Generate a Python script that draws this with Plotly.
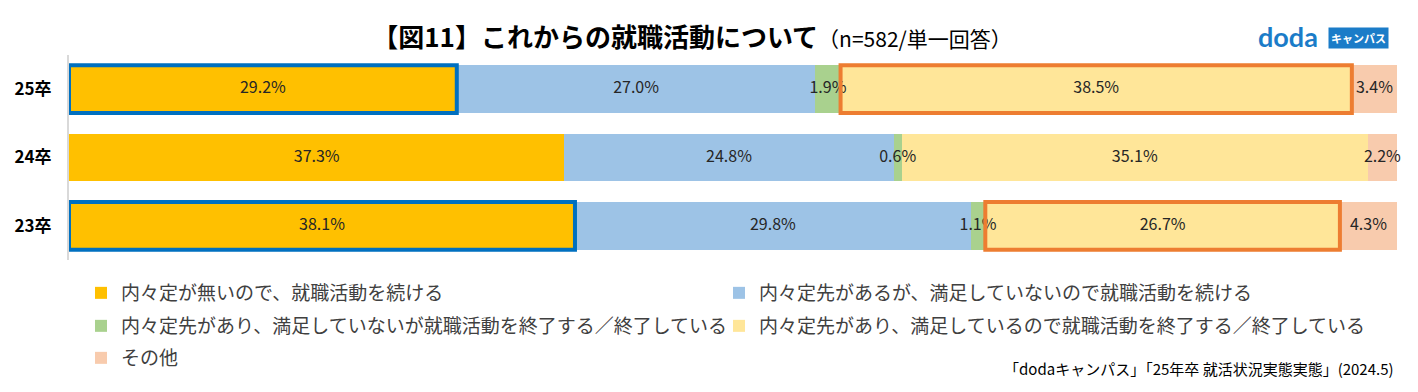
import plotly.graph_objects as go

# ---- data ----
categories = ["25卒", "24卒", "23卒"]
series_names = [
    "内々定が無いので、就職活動を続ける",
    "内々定先があるが、満足していないので就職活動を続ける",
    "内々定先があり、満足していないが就職活動を終了する／終了している",
    "内々定先があり、満足しているので就職活動を終了する／終了している",
    "その他",
]
s1 = [29.2, 37.3, 38.1]
s2 = [27.0, 24.8, 29.8]
s3 = [1.9, 0.6, 1.1]
s4 = [38.5, 35.1, 26.7]
s5 = [3.4, 2.2, 4.3]
series_values = [s1, s2, s3, s4, s5]
colors = ["#FFC000", "#9DC3E6", "#A9D18E", "#FFE699", "#F8CBAD"]
title_main = "【図11】これからの就職活動について"
title_sub = "（n=582/単一回答）"
source_text = "「dodaキャンパス」「25年卒 就活状況実態実態」(2024.5)"
# highlighted segments: (category index, series index, colour)
highlights = [(0, 0, "#0070C0"), (2, 0, "#0070C0"), (0, 3, "#ED7D31"), (2, 3, "#ED7D31")]

# ---- layout geometry ----
W, H = 1418, 392
ML, MR, MT, MB = 69, 21, 55, 132
PW = W - ML - MR
PH = H - MT - MB
FONT = "Noto Sans CJK JP"


def px2x(px):
    return (px - ML) / PW


def py2y(py):
    return (H - MB - py) / PH


fig = go.Figure()
legend_ids = ["legend", "legend2", "legend3", "legend4", "legend5"]
for i, (name, vals, col) in enumerate(zip(series_names, series_values, colors)):
    fig.add_trace(go.Bar(
        name=name, y=categories, x=vals, orientation="h",
        marker=dict(color=col, line=dict(width=0)),
        legend=legend_ids[i], hoverinfo="skip",
    ))

# highlight boxes, computed from the stacked values
half = 0.35
for ci, si, col in highlights:
    start = sum(series_values[k][ci] for k in range(si))
    end = start + series_values[si][ci]
    fig.add_shape(type="rect", xref="x", yref="y", layer="above",
                  x0=start, x1=end, y0=ci - half, y1=ci + half,
                  line=dict(color=col, width=4), fillcolor="rgba(0,0,0,0)")

# value labels at segment centres (drawn on top of all bars)
lab_x, lab_y, lab_t = [], [], []
for ci, cat in enumerate(categories):
    cum = 0.0
    for vals in series_values:
        v = vals[ci]
        lab_x.append(cum + v / 2)
        lab_y.append(cat)
        lab_t.append(f"{v:.1f}%")
        cum += v
fig.add_trace(go.Scatter(
    x=lab_x, y=lab_y, text=lab_t, mode="text", textposition="middle center",
    textfont=dict(family=FONT, size=16, color="#262626"),
    showlegend=False, hoverinfo="skip", cliponaxis=False,
))

# legends positions (pixel targets)
legend_pos = [(81, 293), (719, 293), (81, 326), (719, 326), (81, 358)]
layout_legends = {}
for lid, (lx, ly) in zip(legend_ids, legend_pos):
    layout_legends[lid] = dict(
        x=px2x(lx), y=py2y(ly), xanchor="left", yanchor="middle",
        orientation="h", bgcolor="rgba(0,0,0,0)", itemwidth=30,
        font=dict(family=FONT, size=19, color="#404040"),
        itemclick=False, itemdoubleclick=False,
    )

fig.update_layout(
    width=W, height=H,
    margin=dict(l=ML, r=MR, t=MT, b=MB, autoexpand=False),
    paper_bgcolor="white", plot_bgcolor="white",
    barmode="stack", bargap=0.3,
    showlegend=True,
    title=dict(
        text=f"<b>{title_main}</b><span style='font-size:21px;font-weight:normal'>{title_sub}</span>",
        x=692 / W, xanchor="center", y=1 - 38 / H, yanchor="middle",
        font=dict(family=FONT, size=26, color="#000000"),
    ),
    xaxis=dict(range=[0, 100], visible=False, fixedrange=True),
    yaxis=dict(
        categoryorder="array", categoryarray=categories, autorange="reversed",
        showline=True, linecolor="#D9D9D9", linewidth=2,
        showgrid=False, zeroline=False, ticks="", ticklabelstandoff=12,
        automargin=False, fixedrange=True,
        tickfont=dict(family=FONT, size=17, color="#000000", weight="bold"),
    ),
    **layout_legends,
)

# source note
fig.add_annotation(xref="paper", yref="paper", x=px2x(1396), y=py2y(368),
                   xanchor="right", yanchor="middle", showarrow=False,
                   text=source_text, font=dict(family=FONT, size=15, color="#000000"))

# logo
fig.add_annotation(xref="paper", yref="paper", x=px2x(1288), y=py2y(37),
                   xanchor="center", yanchor="middle", showarrow=False,
                   text="<b>doda</b>", font=dict(family="Lato", size=27, color="#1B7CC8"))
fig.add_annotation(xref="paper", yref="paper", x=px2x(1358), y=py2y(38),
                   xanchor="center", yanchor="middle", showarrow=False,
                   text="<b>キャンパス</b>", bgcolor="#1B7CC8", borderpad=2,
                   font=dict(family=FONT, size=11, color="#FFFFFF"))

fig.write_html("out.html", config={"displayModeBar": False},
               post_script="document.body.style.margin='0';document.body.style.overflow='hidden';")
